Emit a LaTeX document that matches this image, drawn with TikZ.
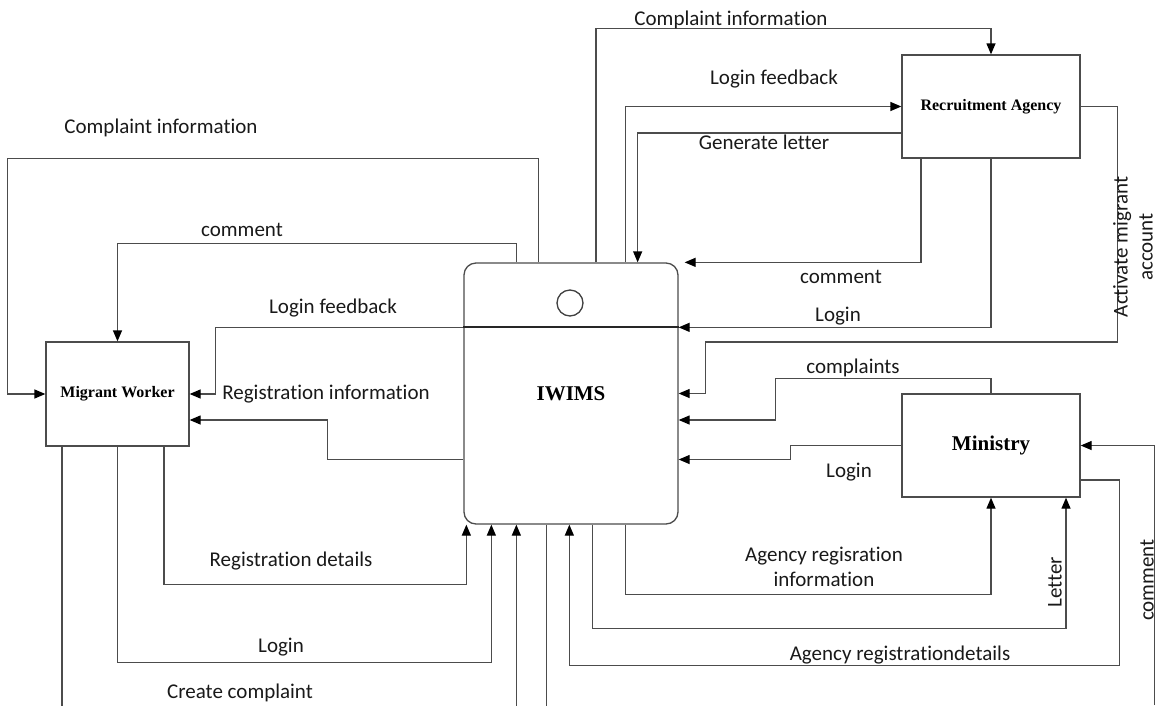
\documentclass[tikz,border=0pt]{standalone}
\usepackage{fontspec}
\setmainfont[Ligatures=NoCommon]{Carlito}
\newfontfamily\boxfont{Liberation Serif}
\usetikzlibrary{positioning,calc,arrows.meta}

\tikzset{
  entity/.style={draw=black!70, line width=1.3pt, fill=white, inner sep=0pt,
    font=\boxfont\bfseries\fontsize{16}{19}\selectfont},
  bigentity/.style={entity, font=\boxfont\bfseries\fontsize{21}{25}\selectfont},
  flow/.style={draw=black!70, line width=1.3pt, -{Triangle[length=11pt,width=9pt,fill=black,color=black]}},
  plain/.style={draw=black!70, line width=1.3pt},
  lbl/.style={font=\fontsize{21}{25}\selectfont, text=black!90, inner sep=0pt, align=center},
}

\begin{document}
\begin{tikzpicture}[x=1pt,y=-1pt]
  \useasboundingbox (0,0) rectangle (1159,705);
  %%
  % Node: Migrant Worker
  \node[entity, minimum width=143pt, minimum height=104pt] (mw) at (117.5,394) {Migrant Worker};
  % Node: IWIMS
  \node[bigentity, rounded corners=12pt, minimum width=214pt, minimum height=261pt] (iw) at (571,393.5) {IWIMS};
  \node[draw=black!75, circle, line width=1.3pt, minimum size=26pt] (lamp) at (570,303) {};
  \coordinate (divw) at ($(iw.north west)+(0,65)$);
  \coordinate (dive) at ($(iw.north east)+(0,65)$);
  \draw[black!85, line width=2.2pt] (divw) -- (dive);
  % Node: Recruitment Agency
  \node[entity, minimum width=178pt, minimum height=103pt] (ra) at (991,106.5) {Recruitment Agency};
  % Node: Ministry
  \node[bigentity, minimum width=178pt, minimum height=103pt] (mi) at (991,445.5) {Ministry};
  %%
  % Edge: IWIMS -> Migrant Worker
  \draw[flow] ($(iw.north west)+(75,0)$) -- ++(0,-104) -| ($(mw.west)+(-38,0)$) -- (mw.west);
  \draw[flow] ($(iw.north west)+(53,0)$) -- ++(0,-19) -| (mw.north);
  \draw[flow] (divw) -| ($(mw.east)+(25.5,0)$) -- (mw.east);
  \draw[flow] ($(iw.west)+(0,66)$) -| ($(mw.east)+(137.5,26)$) -- ($(mw.east)+(0,26)$);
  % Edge: Migrant Worker -> IWIMS
  \draw[flow] ($(mw.south)+(46.5,0)$) |- ($(iw.south west)+(3,59.5)$) -- ($(iw.south west)+(3,0)$);
  \draw[flow] (mw.south) |- ($(iw.south west)+(28,138)$) -- ($(iw.south west)+(28,0)$);
  \coordinate (ccend) at ($(mw.south)+(-55.5,259)$);
  \draw[plain] ($(mw.south)+(-55.5,0)$) -- (ccend);
  % Edge: below -> IWIMS
  \coordinate (lowa) at ($(iw.south west)+(53,181)$);
  \coordinate (lowb) at ($(iw.south west)+(83,181)$);
  \draw[flow] (lowa) -- ($(iw.south west)+(53,0)$);
  \draw[plain] ($(iw.south west)+(83,0)$) -- (lowb);
  % Edge: Ministry <-> IWIMS
  \draw[flow] ($(mi.east)+(0,34.5)$) -- ++(39,0) |- ($(iw.south west)+(106,141)$) -- ($(iw.south west)+(106,0)$);
  \draw[flow] ($(iw.south west)+(129,0)$) |- ($(mi.south)+(75,131)$) -- ($(mi.south)+(75,0)$);
  \draw[flow] ($(iw.south east)+(-53.5,0)$) |- ($(mi.south)+(0,97)$) -- (mi.south);
  \coordinate (cmend) at ($(mi.east)+(74,259.5)$);
  \draw[flow] (cmend) |- (mi.east);
  \draw[flow] (mi.west) -- ++(-111,0) |- ($(iw.east)+(0,66)$);
  \draw[flow] (mi.north) -- ++(0,-15) -| ($(iw.east)+(97,26.5)$) -- ($(iw.east)+(0,26.5)$);
  % Edge: Recruitment Agency <-> IWIMS
  \draw[flow] (ra.east) -- ++(37,0) |- ($(iw.east)+(27,-51.5)$) |- (iw.east);
  \draw[flow] (ra.south) |- (dive);
  \draw[flow] ($(ra.south)+(-70,0)$) |- ($(iw.north east)+(6,0)$);
  \draw[flow] ($(iw.north west)+(132.5,0)$) |- ($(ra.north)+(0,-26)$) -- (ra.north);
  \draw[flow] ($(iw.north east)+(-53.5,0)$) |- (ra.west);
  \draw[flow] ($(ra.west)+(0,26.5)$) -| ($(iw.north east)+(-41,0)$);
  %%
  % Labels
  \node[lbl] (l-cinfo) at (161,128) {Complaint information};
  \node[lbl] (l-mwcomment) at (242,230) {comment};
  \node[lbl] (l-mwfeed) at (333,308) {Login feedback};
  \node[lbl] (l-reginfo) at (326,394) {Registration information};
  \node[lbl] (l-regdet) at (291,561) {Registration details};
  \node[lbl] (l-mwlogin) at (281,647) {Login};
  \node[lbl] (l-create) at (240,693) {Create complaint};
  \node[lbl] (l-rainfo) at (731,20) {Complaint information};
  \node[lbl] (l-rafeed) at (774,79) {Login feedback};
  \node[lbl] (l-letter) at (764,142) {Generate letter};
  \node[lbl] (l-racomment) at (841,277) {comment};
  \node[lbl] (l-ralogin) at (838,316) {Login};
  \node[lbl] (l-compl) at (853,368) {complaints};
  \node[lbl] (l-milogin) at (849,472) {Login};
  \node[lbl] (l-agreg) at (824,567) {Agency regisration\\information};
  \node[lbl, rotate=90] (l-miletter) at (1055,582) {Letter};
  \node[lbl] (l-agdet) at (900,655) {Agency registrationdetails};
  \node[lbl, rotate=90] (l-micomment) at (1147,580) {comment};
  \node[lbl, rotate=90] (l-activate) at (1133,247) {Activate migrant\\account};
  %
\end{tikzpicture}
\end{document}
